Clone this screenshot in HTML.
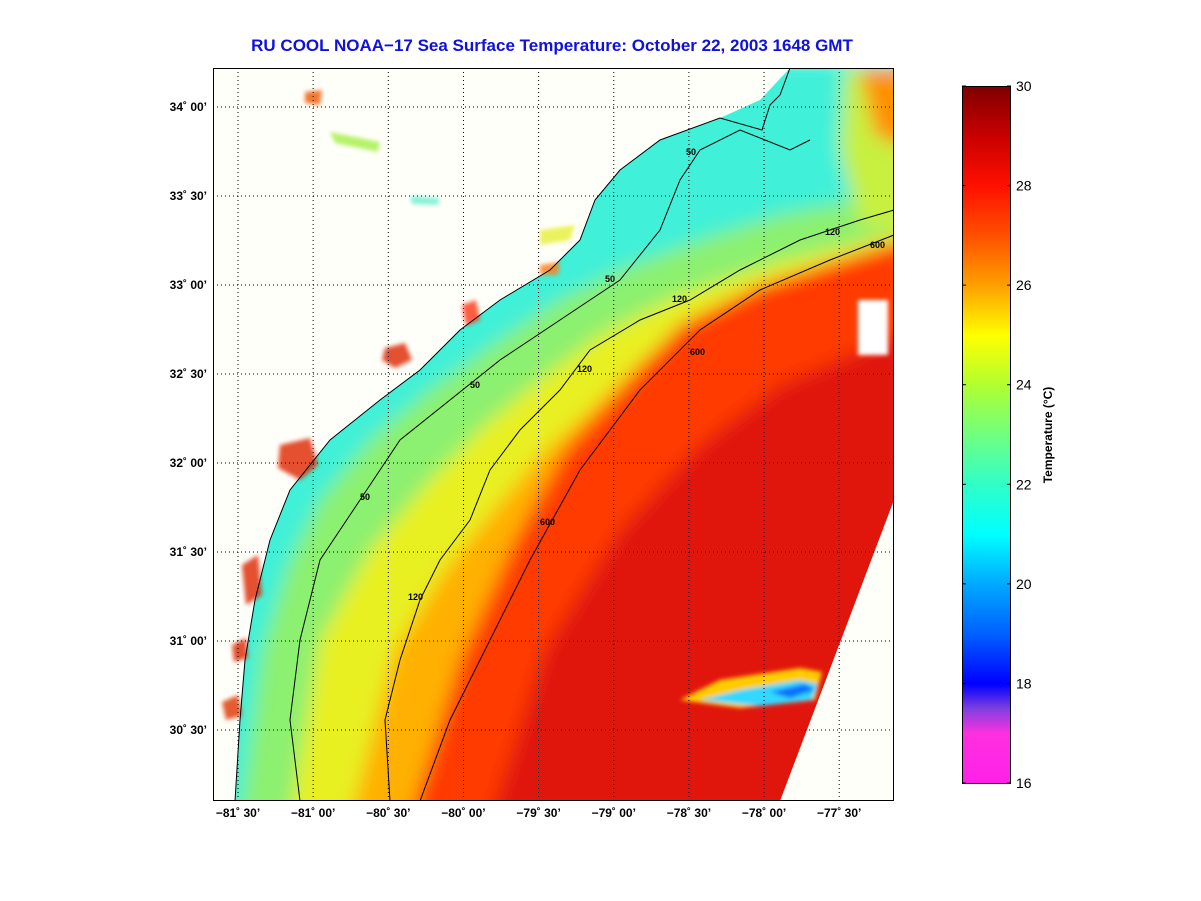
<!DOCTYPE html>
<html><head><meta charset="utf-8"><style>
html,body{margin:0;padding:0;background:#fff;}
svg{display:block;font-family:"Liberation Sans",sans-serif;}
</style></head><body>
<svg id="fig" width="1201" height="901" viewBox="0 0 1201 901">
<defs>
<filter id="blur" x="-5%" y="-5%" width="110%" height="110%"><feGaussianBlur stdDeviation="9"/></filter>
<filter id="blur2"><feGaussianBlur stdDeviation="2"/></filter>
<clipPath id="axclip"><rect x="213" y="68" width="681" height="733"/></clipPath>
<clipPath id="dataclip"><polygon points="790,68 894,68 894,500 780,801 235,801 240,720 245,660 255,600 270,540 290,490 330,440 380,400 420,370 460,330 500,300 550,270 580,240 595,200 620,170 660,140 720,118 760,100"/></clipPath>
<linearGradient id="cbgrad" x1="0" y1="1" x2="0" y2="0"></linearGradient>
</defs>
<text x="552" y="51" text-anchor="middle" font-size="17" font-weight="bold" fill="#1010e0">RU COOL  NOAA−17  Sea Surface Temperature:  October 22, 2003 1648 GMT</text>
<g clip-path="url(#axclip)">
<rect x="213" y="68" width="681" height="733" fill="#fffffa"/>
<g clip-path="url(#dataclip)">
<g filter="url(#blur)">
<rect x="200" y="60" width="710" height="760" fill="#3ff0d8"/>
<polygon fill="#8cf070" points="240,820 262,650 290,560 320,500 370,440 430,390 500,340 560,300 620,270 700,240 780,215 910,190 910,820"/>
<polygon fill="#e8f020" points="290,820 320,640 370,550 430,480 485,425 540,380 600,335 680,295 780,262 910,230 910,820"/>
<polygon fill="#ffb000" points="350,820 395,650 445,570 490,515 540,455 590,410 640,362 700,315 780,282 910,245 910,820"/>
<polygon fill="#ff3a00" points="410,820 460,660 515,540 565,450 620,390 680,325 760,285 910,238 910,820"/>
<polygon fill="#e01808" points="490,820 545,650 620,530 700,445 780,385 910,330 910,820"/>
<polygon fill="#c8f040" points="845,68 910,68 910,230 860,225 840,150"/>
<polygon fill="#ff9000" points="860,68 910,68 910,150 875,135"/>
</g>
<g filter="url(#blur2)">
<polygon fill="#ffcc00" points="680,700 720,680 800,668 822,672 815,700 740,708"/>
<polygon fill="#30d8ff" points="700,700 740,690 800,680 818,684 812,700 760,706"/>
<polygon fill="#1070ff" points="770,692 805,684 815,690 790,698"/>
<rect x="858" y="300" width="30" height="55" fill="#fff"/>
</g>
</g>
<g fill="#e03010" filter="url(#blur2)" opacity="0.85">
<polygon points="385,348 405,343 412,360 395,368 382,360"/>
<polygon points="280,445 310,438 318,465 300,480 278,468"/>
<polygon points="242,565 258,555 262,595 246,605"/>
<polygon points="232,645 246,638 248,658 234,662"/>
<polygon points="462,305 476,300 480,320 466,326" fill="#ff4020"/>
<polygon points="222,702 238,695 242,716 226,720" fill="#e04010"/>
<polygon points="305,92 322,90 320,105 305,103" fill="#f06010"/>
<polygon points="330,132 380,142 378,152 335,143" fill="#a8f050"/>
<polygon points="410,196 440,198 438,205 412,204" fill="#70f0d0"/>
<polygon points="540,230 575,225 570,240 540,245" fill="#e8f040"/>
<polygon points="540,265 560,262 558,275 540,275" fill="#ff8020"/>
</g>
<g fill="none" stroke="#000" stroke-width="1">
<polyline points="790,68 780,95 770,105 762,130 720,118 660,140 620,170 595,200 580,240 550,270 500,300 460,330 420,370 380,400 330,440 290,490 270,540 255,600 245,660 240,720 235,801"/>
<polyline points="300,801 290,720 300,640 320,560 360,500 400,440 450,400 500,360 560,320 620,280 660,230 680,180 700,150 740,130 790,150 810,140"/>
<polyline points="390,801 385,720 400,660 420,600 440,560 470,520 490,470 520,430 560,390 590,350 640,320 690,300 740,270 800,240 860,220 894,210"/>
<polyline points="420,801 450,720 490,640 530,560 580,470 640,390 700,330 760,290 830,260 894,235"/>
</g>
<g font-size="9" font-weight="bold">
<text x="470" y="388">50</text><text x="360" y="500">50</text><text x="605" y="282">50</text><text x="686" y="155">50</text>
<text x="577" y="372">120</text><text x="672" y="302">120</text><text x="825" y="235">120</text><text x="408" y="600">120</text>
<text x="540" y="525">600</text><text x="690" y="355">600</text><text x="870" y="248">600</text>
</g>
<g id="grid" stroke="#000" stroke-width="1" stroke-dasharray="1,3"></g>
</g>
<rect x="213.5" y="68.5" width="680" height="732" fill="none" stroke="#000"/>
<g id="xticks" font-size="12" font-weight="bold"></g>
<g id="yticks" font-size="12" font-weight="bold"></g>
<rect x="962.5" y="86.5" width="48" height="697" fill="url(#cbgrad)" stroke="#000"/>
<g id="cbticks" font-size="14"></g>
<text transform="translate(1052,435) rotate(-90)" text-anchor="middle" font-size="12" font-weight="bold">Temperature (°C)</text>
</svg>
<script>
const lonTicks = [-81.5,-81,-80.5,-80,-79.5,-79,-78.5,-78,-77.5];
const lonLabels = ["−81˚ 30’","−81˚ 00’","−80˚ 30’","−80˚ 00’","−79˚ 30’","−79˚ 00’","−78˚ 30’","−78˚ 00’","−77˚ 30’"];
const latTicks = [34,33.5,33,32.5,32,31.5,31,30.5];
const latLabels = ["34˚ 00’","33˚ 30’","33˚ 00’","32˚ 30’","32˚ 00’","31˚ 30’","31˚ 00’","30˚ 30’"];
const cbTicks = [16,18,20,22,24,26,28,30];
const cbStopVals = [16,17,17.5,18,19,20,21,22,23,24,25,26,27,28,29,30];
const cbStopColors = ["#ff20e8","#ff30e0","#8040e0","#0000ff","#0060ff","#00a8ff","#00ffff","#30ffc8","#70ff80","#b0ff30","#ffff00","#ffa000","#ff5000","#ff1000","#c80000","#800000"];
const NS="http://www.w3.org/2000/svg";
const xS = v => 238 + (v + 81.5) * 150.3;
const yS = v => 107 + (34 - v) * 178;
const cbY = v => 783 - (v - 16) / 14 * 697;
const grid=document.getElementById('grid'), xt=document.getElementById('xticks'), yt=document.getElementById('yticks'), cb=document.getElementById('cbticks');
lonTicks.forEach((v,i)=>{
  const l=document.createElementNS(NS,'line');
  
  
  l.setAttribute('x1',xS(v));l.setAttribute('x2',xS(v));l.setAttribute('y1',68);l.setAttribute('y2',801);
  grid.appendChild(l);
  const t=document.createElementNS(NS,'text');
  
  
  t.setAttribute('x',xS(v));t.setAttribute('y',817);t.setAttribute('text-anchor','middle');
  t.textContent=lonLabels[i];xt.appendChild(t);
});
latTicks.forEach((v,i)=>{
  const yy=yS(v);
  const l=document.createElementNS(NS,'line');
  
  
  l.setAttribute('x1',213);l.setAttribute('x2',894);l.setAttribute('y1',yy);l.setAttribute('y2',yy);
  grid.appendChild(l);
  const t=document.createElementNS(NS,'text');
  
  
  t.setAttribute('x',207);t.setAttribute('y',yy+4);t.setAttribute('text-anchor','end');
  t.textContent=latLabels[i];yt.appendChild(t);
});
const grad=document.getElementById('cbgrad');
cbStopVals.forEach((v,i)=>{
  const s=document.createElementNS(NS,'stop');
  
  
  s.setAttribute('offset',((v-16)/14).toFixed(4));s.setAttribute('stop-color',cbStopColors[i]);
  grad.appendChild(s);
});
cbTicks.forEach(v=>{
  const y=cbY(v);
  [[962,966],[1007,1011]].forEach(p=>{
    const l=document.createElementNS(NS,'line');
    
    
    l.setAttribute('x1',p[0]);l.setAttribute('x2',p[1]);l.setAttribute('y1',y);l.setAttribute('y2',y);l.setAttribute('stroke','#000');
    cb.appendChild(l);
  });
  const t=document.createElementNS(NS,'text');
  
  
  t.setAttribute('x',1016);t.setAttribute('y',y+5);
  t.textContent=v;cb.appendChild(t);
});
</script>
</body></html>
